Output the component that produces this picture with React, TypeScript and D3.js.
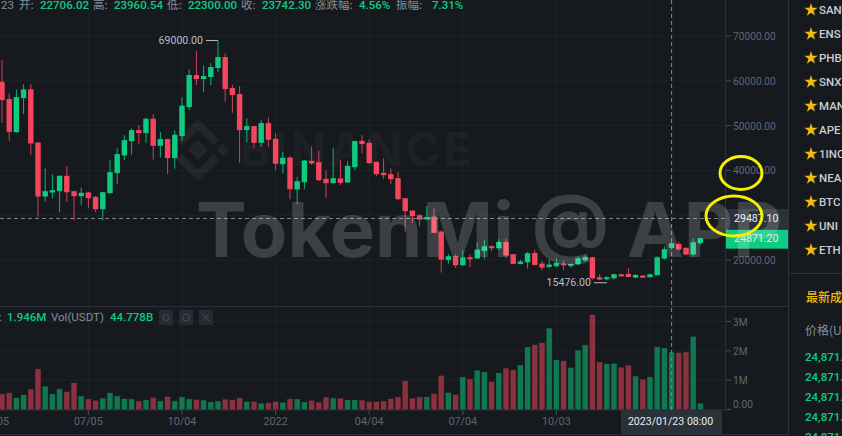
import React from 'react';
import * as d3 from 'd3';

const opens = [59795,55921,48546,56144,58082,46238,34170,35064,35362,38789,35362,34245,35064,34095,31340,34915,39385,43332,46536,48994,48323,51527,45493,46982,42737,47653,54134,61285,60391,60837,62849,65307,58380,57039,48994,49887,46164,50558,47057,41395,42886,35735,37373,42141,41843,38118,37150,38193,37298,40725,46610,46163,41917,39459,39161,38267,33798,31041,29999,29030,29701,26349,20017,20837,18825,20612,20315,22029,23071,22625,24039,21284,19123,19497,21582,19199,18454,18602,19199,18677,19050,19944,20614,16145,15698,15921,16815,16890,16071,16517,16145,16592,20316,22706,23594,22700,21210,23743];
const highs = [64637,57187,58082,59199,59273,46238,40427,39162,38938,40948,35362,36182,35139,34319,35139,42290,44897,47876,49366,50111,51750,52569,48546,46982,48994,56294,62551,66648,63371,63892,69000,66127,59124,58827,51601,49887,51229,51825,48248,44152,43184,38565,42290,45418,44376,40055,45120,42290,42066,46610,47876,46908,41992,42662,40427,39682,33798,31041,30222,32010,31489,26572,21433,21209,22178,21284,23891,24412,23295,24635,24859,21358,20000,21806,22327,19795,20093,20316,19944,19199,20838,21061,20689,16815,16368,16964,16964,18156,16815,16666,16890,20838,23072,23960,24041,22923,24786,24950];
const lows = [50633,46610,48398,52569,43407,29627,32979,33723,30669,32979,28800,32233,31638,30669,28800,34840,36926,42290,43556,45865,46164,42438,42886,39162,40352,46610,53463,59050,57486,59050,61881,55325,52867,41694,46312,45046,45269,45269,40055,39310,33574,32457,35808,41247,37597,33872,37075,36703,37224,40055,43779,41396,38714,38118,36926,33351,26274,28285,27540,29030,26051,17186,19198,18229,18751,18453,20241,20241,21954,22178,20464,19049,19049,18082,18826,17709,18156,18454,17709,18305,18826,19571,15623,15500,15476,15623,16219,16145,15921,15996,16145,16592,20093,22300,22179,21061,20689,23296];
const closes = [55698,48621,56368,58082,46014,34170,35362,35586,38789,35139,34245,34989,33797,31340,35139,39607,43631,46759,48994,48323,51527,45493,46982,42737,47951,54432,61285,60391,61061,63072,65307,58156,56816,48994,49887,46164,50558,46834,41471,42811,35808,37597,42215,41545,37820,37150,38267,37224,41023,46536,45865,41619,39161,38937,38044,33574,30892,29775,29030,29626,26051,20091,20837,18825,20612,20166,22327,23071,22625,24039,20986,19123,19644,21508,18901,18305,18975,19348,18826,19124,20391,20689,15921,15623,16145,16815,16368,16219,16666,16071,16815,20614,22402,23742,22327,21210,23966,24871];
const volumes = [0.52,0.56,0.39,0.49,0.68,1.375,0.78,0.52,0.69,0.6,0.9,0.45,0.35,0.3,0.375,0.56,0.45,0.36,0.35,0.28,0.32,0.4,0.28,0.43,0.28,0.42,0.35,0.33,0.31,0.25,0.28,0.34,0.32,0.39,0.26,0.26,0.2,0.22,0.26,0.23,0.35,0.35,0.25,0.3,0.24,0.41,0.375,0.375,0.32,0.32,0.31,0.26,0.26,0.28,0.36,0.42,0.97,0.375,0.42,0.42,0.53,1.15,0.57,0.5,1.1,1.03,1.33,1.27,0.94,1.24,1.4,1.34,1.51,2.125,2.2,2.27,2.76,1.68,1.65,1.42,2.01,2.19,3.22,1.61,1.55,1.56,1.43,1.5,1.125,1.02,1.1,2.125,2.09,1.946,1.93,1.95,2.48,0.2];

const priceTicks = [70000, 60000, 50000, 40000, 30000, 20000];
const volumeTicks = [0, 1, 2, 3];
const volumeTickLabels = ['0.00', '1M', '2M', '3M'];
const timeTickIndex = [-1, 12, 25, 38, 51, 64, 77, 90];
const timeTickLabels = ['04/05', '07/05', '10/04', '2022', '04/04', '07/04', '10/03', '2023'];
const watchList = ['SAN', 'ENS', 'PHB', 'SNX', 'MAN', 'APE', '1INC', 'NEA', 'BTC', 'UNI', 'ETH'];
const tradePrices = ['24,871.', '24,871.', '24,871.', '24,871.', '24,871.'];
const headerItems: [string, string][] = [['开:', '22706.02'], ['高:', '23960.54'], ['低:', '22300.00'], ['收:', '23742.30'], ['涨跌幅:', '4.56%'], ['振幅:', '7.31%']];
const headerX = [19, 93, 167, 241, 315, 396];
const headerValueX = [40, 114, 188, 262, 359, 432];
const crossIndex = 93;
const crossPrice = 29487.1;
const lastPrice = 24871.2;
const peakIndex = 30;
const troughIndex = 84;

const GREEN = '#0ECB81';
const RED = '#F6465D';
const BG = '#161A1E';
const LINE = '#2B3139';
const GRID = '#1E2329';
const AXIS_TEXT = '#5E6673';
const FONT = 'Roboto, "Noto Sans CJK SC", sans-serif';
const CJK = '"Noto Sans CJK SC", sans-serif';

const x = d3.scaleLinear().domain([0, 97]).range([2, 2 + 7.2 * 97]);
const y = d3.scaleLinear().domain([20000, 70000]).range([260, 36]);
const yVol = d3.scaleLinear().domain([0, 3]).range([409.5, 321.5]);
const star = d3.symbol(d3.symbolStar).size(55)() as string;

function Logo({ cx, cy }: { cx: number; cy: number }) {
  const fill = 'rgba(255,255,255,0.055)';
  return (
    <g transform={`translate(${cx},${cy}) rotate(45)`} fill={fill}>
      <rect x={-7} y={-7} width={14} height={14} />
      <rect x={-22} y={13} width={9} height={9} />
      <rect x={13} y={-22} width={9} height={9} />
      <path d="M-22,-22H8V-14H-14V8H-22Z" />
      <path d="M22,22H-8V14H14V-8H22Z" />
    </g>
  );
}

export default function App() {
  const crossX = x(crossIndex);
  const crossY = y(crossPrice);
  return (
    <svg width={842} height={436} style={{ position: 'fixed', left: 0, top: 0, display: 'block', background: BG }}>
      <defs>
        <clipPath id="wm"><rect x={0} y={0} width={788} height={306} /></clipPath>
      </defs>
      {timeTickIndex.map((t) => (
        <line key={t} x1={x(t)} x2={x(t)} y1={0} y2={410} stroke={GRID} />
      ))}
      {priceTicks.map((t) => (
        <line key={t} x1={0} x2={725} y1={y(t)} y2={y(t)} stroke={GRID} />
      ))}
      {volumeTicks.map((t) => (
        <line key={t} x1={0} x2={725} y1={yVol(t)} y2={yVol(t)} stroke={GRID} />
      ))}
      <Logo cx={198} cy={150} />
      <text x={240} y={166} fontFamily="Inter, sans-serif" fontWeight={700} fontSize={46} letterSpacing={3.6} fill="rgba(255,255,255,0.05)">BINANCE</text>
      {opens.map((o, i) => {
        const c = closes[i];
        const col = c >= o ? GREEN : RED;
        const top = y(Math.max(o, c));
        const h = Math.max(1, Math.abs(y(o) - y(c)));
        return (
          <g key={i}>
            <line x1={x(i)} x2={x(i)} y1={y(highs[i])} y2={y(lows[i])} stroke={col} strokeWidth={1} strokeOpacity={0.85} />
            <rect x={x(i) - 2.7} y={top} width={5.4} height={h} fill={col} />
          </g>
        );
      })}
      {volumes.map((v, i) => {
        const col = closes[i] >= opens[i] ? GREEN : RED;
        return (
          <rect key={i} x={x(i) - 2.6} y={yVol(v)} width={5.2} height={yVol(0) - yVol(v)} fill={col} fillOpacity={0.52} stroke={col} strokeOpacity={0.12} />
        );
      })}
      <text x={203} y={44} textAnchor="end" fontFamily={FONT} fontSize={10.6} fill="#B7BDC6">69000.00</text>
      <line x1={206} x2={x(peakIndex)} y1={y(highs[peakIndex])} y2={y(highs[peakIndex])} stroke="#B7BDC6" />
      <text x={591} y={286} textAnchor="end" fontFamily={FONT} fontSize={10.6} fill="#B7BDC6">15476.00</text>
      <line x1={594} x2={x(troughIndex)} y1={y(lows[troughIndex]) + 2.5} y2={y(lows[troughIndex]) + 2.5} stroke="#B7BDC6" />
      <line x1={0} x2={788} y1={306.5} y2={306.5} stroke={LINE} />
      <line x1={0} x2={788} y1={434.5} y2={434.5} stroke={LINE} />
      <line x1={725.5} x2={725.5} y1={0} y2={410} stroke={LINE} />
      <line x1={788.5} x2={788.5} y1={0} y2={436} stroke={LINE} />
      <line x1={0} x2={725} y1={410} y2={410} stroke={LINE} />
      <line x1={788} x2={842} y1={273.5} y2={273.5} stroke={LINE} />
      {priceTicks.filter((t) => t !== 30000).map((t) => (
        <g key={t}>
          <line x1={726} x2={731} y1={y(t)} y2={y(t)} stroke="#474D57" />
          <text x={733} y={y(t) + 4} fontFamily={FONT} fontSize={10.2} fill={AXIS_TEXT}>{d3.format('.2f')(t)}</text>
        </g>
      ))}
      {volumeTicks.map((t, i) => (
        <g key={t}>
          <line x1={726} x2={731} y1={yVol(t)} y2={yVol(t)} stroke="#474D57" />
          <text x={733} y={yVol(t) + (t === 0 ? -1.5 : 4)} fontFamily={FONT} fontSize={10.2} fill={AXIS_TEXT}>{volumeTickLabels[i]}</text>
        </g>
      ))}
      {timeTickIndex.map((t, i) => (
        <g key={t}>
          <line x1={x(t)} x2={x(t)} y1={410} y2={415} stroke="#474D57" />
          <text x={x(t)} y={425} textAnchor="middle" fontFamily={FONT} fontSize={10.8} fill={AXIS_TEXT}>{timeTickLabels[i]}</text>
        </g>
      ))}
      <line x1={0} x2={725} y1={crossY + 1} y2={crossY + 1} stroke="#808690" strokeDasharray="4 3" />
      <line x1={crossX} x2={crossX} y1={0} y2={410} stroke="#808690" strokeDasharray="4 3" />
      <rect x={726} y={209} width={62} height={20} fill={LINE} />
      <text x={734} y={222} fontFamily={FONT} fontSize={10.6} fill="#EAECEF">{d3.format('.2f')(crossPrice)}</text>
      <rect x={726} y={y(lastPrice) - 8.5} width={62} height={19} fill={GREEN} />
      <text x={734} y={y(lastPrice) + 4} fontFamily={FONT} fontSize={10.6} fill="#EAECEF">{d3.format('.2f')(lastPrice)}</text>
      <rect x={621} y={410} width={101} height={24} fill={LINE} />
      <text x={crossX - 1} y={425} textAnchor="middle" fontFamily={FONT} fontSize={10.6} fill="#EAECEF">2023/01/23 08:00</text>
      <text x={196} y={257} clipPath="url(#wm)" fontFamily="Inter, sans-serif" fontWeight={700} fontSize={76} letterSpacing={0} fill="rgba(255,255,255,0.17)">TokenMi @ APP</text>
      <text x={1} y={9} fontFamily={FONT} fontSize={11.5} fill="#848E9C">23</text>
      {headerItems.map(([k, v], i) => (
        <g key={k}>
          <text x={headerX[i]} y={9} fontFamily={CJK} fontSize={11.5} fill="#848E9C">{k}</text>
          <text x={headerValueX[i]} y={9} fontFamily={FONT} fontSize={11.5} fontWeight={500} fill={GREEN}>{v}</text>
        </g>
      ))}
      <text x={-1} y={321} fontFamily={FONT} fontSize={11.5} fill="#848E9C">:</text>
      <text x={7} y={321} fontFamily={FONT} fontSize={11.5} fontWeight={500} fill={GREEN}>1.946M</text>
      <text x={51} y={321} fontFamily={FONT} fontSize={11.5} fill="#848E9C">Vol(USDT)</text>
      <text x={110} y={321} fontFamily={FONT} fontSize={11.5} fontWeight={500} fill={GREEN}>44.778B</text>
      {[159, 179, 199].map((bx) => (
        <rect key={bx} x={bx} y={310} width={14} height={15} fill="#2B3139" fillOpacity={0.75} />
      ))}
      <circle cx={166} cy={317.5} r={3} fill="none" stroke="#474D57" />
      <circle cx={186} cy={317.5} r={3.5} fill="none" stroke="#474D57" />
      <path d="M203,314L209,321M209,314L203,321" stroke="#474D57" />
      {watchList.map((n, i) => (
        <g key={n} transform={`translate(0,${10 + i * 24})`}>
          <path d={star} transform="translate(811,0)" fill="#F0B90B" />
          <text x={819} y={4} fontFamily={FONT} fontSize={11.5} fontWeight={500} fill="#C9CDD3">{n}</text>
        </g>
      ))}
      <text x={806} y={302} fontFamily={CJK} fontSize={12} fontWeight={500} fill="#F0B90B">最新成</text>
      <text x={805} y={335} fontFamily={CJK} fontSize={12} fill="#848E9C">价格(U</text>
      {tradePrices.map((p, i) => (
        <text key={i} x={805} y={361 + i * 20} fontFamily={FONT} fontSize={11.5} fontWeight={500} fill={GREEN}>{p}</text>
      ))}
      <ellipse cx={741} cy={173} rx={21} ry={16.5} fill="none" stroke="#F5F000" strokeWidth={3} />
      <ellipse cx={734} cy={216} rx={28} ry={20} fill="none" stroke="#F5F000" strokeWidth={3} />
    </svg>
  );
}
